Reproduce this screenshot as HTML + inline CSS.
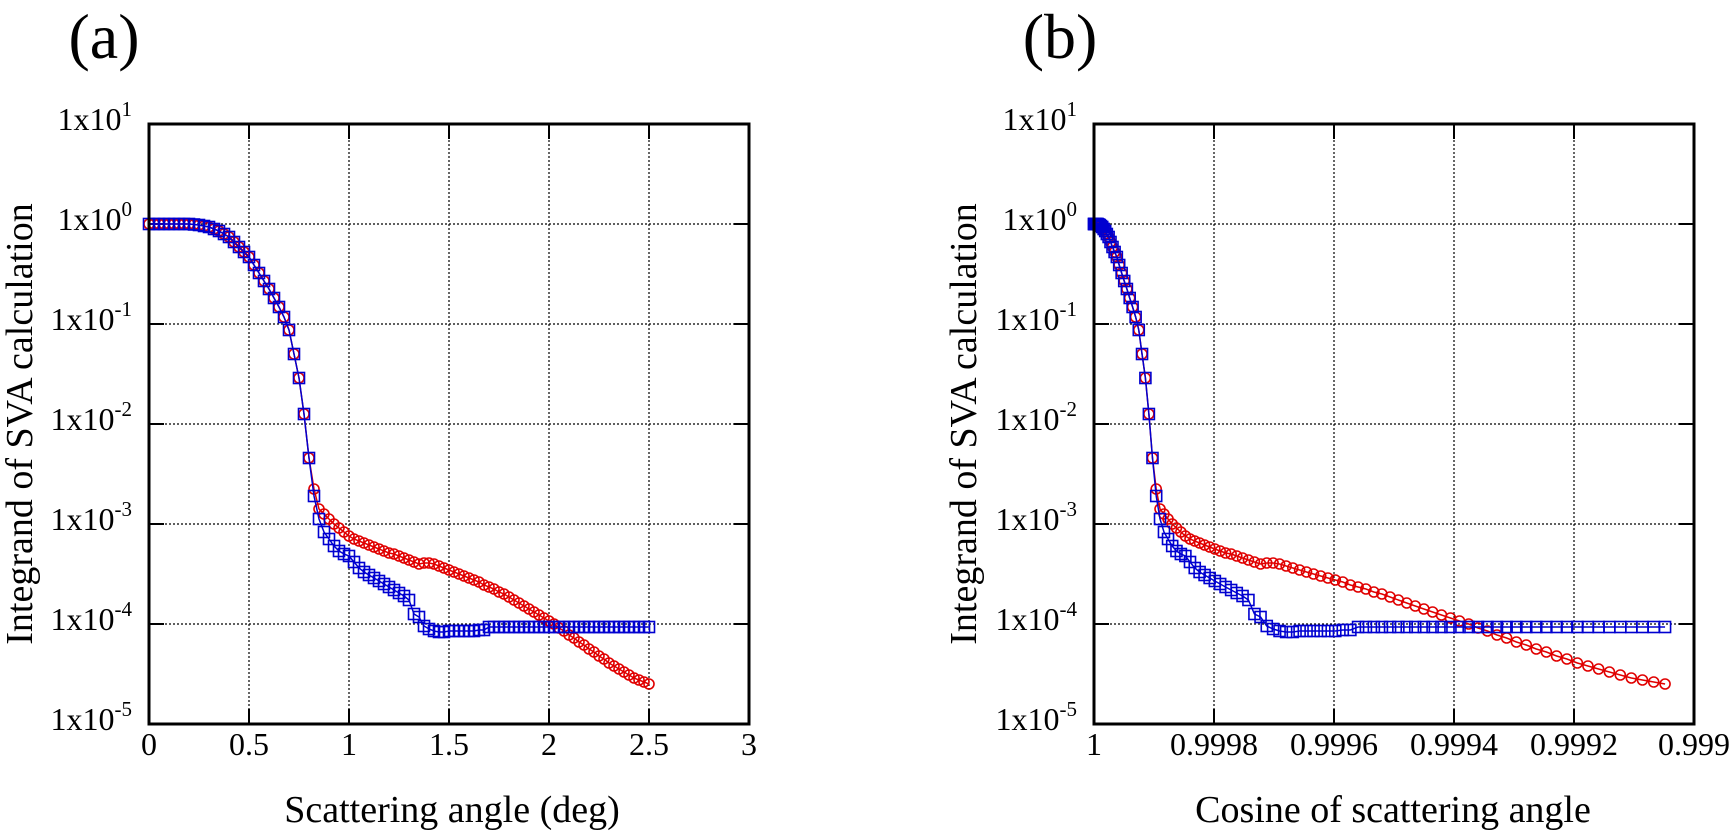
<!DOCTYPE html>
<html><head><meta charset="utf-8"><style>
html,body{margin:0;padding:0;background:#fff;}
svg{display:block;font-family:"Liberation Serif",serif;}
</style></head><body>
<svg id="fig" width="1733" height="833" viewBox="0 0 1733 833" xmlns="http://www.w3.org/2000/svg"></svg>
<script>
// ---- data (angle in degrees, values as log10 of integrand) ----
const angles = [0,0.025,0.05,0.075,0.1,0.125,0.15,0.175,0.2,0.225,0.25,0.275,0.3,0.325,0.35,0.375,0.4,0.425,0.45,0.475,0.5,0.525,0.55,0.575,0.6,0.625,0.65,0.675,0.7,0.725,0.75,0.775,0.8,0.825,0.85,0.875,0.9,0.925,0.95,0.975,1.0,1.025,1.05,1.075,1.1,1.125,1.15,1.175,1.2,1.225,1.25,1.275,1.3,1.325,1.35,1.375,1.4,1.425,1.45,1.475,1.5,1.525,1.55,1.575,1.6,1.625,1.65,1.675,1.7,1.725,1.75,1.775,1.8,1.825,1.85,1.875,1.9,1.925,1.95,1.975,2.0,2.025,2.05,2.075,2.1,2.125,2.15,2.175,2.2,2.225,2.25,2.275,2.3,2.325,2.35,2.375,2.4,2.425,2.45,2.475,2.5];
const logRed = [0,0,0,0,0,0,0,0,0,-0.005,-0.01,-0.02,-0.03,-0.05,-0.07,-0.10,-0.13,-0.18,-0.23,-0.28,-0.33,-0.41,-0.49,-0.57,-0.65,-0.74,-0.83,-0.93,-1.06,-1.3,-1.54,-1.9,-2.34,-2.65,-2.85,-2.9,-2.95,-3.0,-3.04,-3.08,-3.12,-3.15,-3.17,-3.19,-3.21,-3.23,-3.25,-3.27,-3.29,-3.30,-3.32,-3.34,-3.36,-3.38,-3.40,-3.39,-3.39,-3.40,-3.42,-3.44,-3.46,-3.48,-3.50,-3.52,-3.54,-3.56,-3.58,-3.61,-3.63,-3.65,-3.68,-3.70,-3.73,-3.76,-3.79,-3.82,-3.85,-3.88,-3.91,-3.94,-3.97,-4.0,-4.04,-4.07,-4.11,-4.14,-4.18,-4.21,-4.25,-4.28,-4.32,-4.35,-4.39,-4.42,-4.45,-4.48,-4.51,-4.54,-4.56,-4.58,-4.6];
const logBlue = [0,0,0,0,0,0,0,0,0,-0.005,-0.01,-0.02,-0.03,-0.05,-0.07,-0.10,-0.13,-0.18,-0.23,-0.28,-0.33,-0.41,-0.49,-0.57,-0.65,-0.74,-0.83,-0.93,-1.06,-1.3,-1.54,-1.9,-2.34,-2.72,-2.95,-3.08,-3.15,-3.22,-3.27,-3.3,-3.32,-3.38,-3.44,-3.48,-3.51,-3.54,-3.57,-3.6,-3.63,-3.66,-3.69,-3.72,-3.76,-3.9,-3.93,-4.02,-4.05,-4.07,-4.08,-4.08,-4.07,-4.07,-4.07,-4.07,-4.07,-4.07,-4.06,-4.06,-4.03,-4.03,-4.03,-4.03,-4.03,-4.03,-4.03,-4.03,-4.03,-4.03,-4.03,-4.03,-4.03,-4.03,-4.03,-4.03,-4.03,-4.03,-4.03,-4.03,-4.03,-4.03,-4.03,-4.03,-4.03,-4.03,-4.03,-4.03,-4.03,-4.03,-4.03,-4.03,-4.03];
const yExps = [1,0,-1,-2,-3,-4,-5];
const xTicksA = [0,0.5,1,1.5,2,2.5,3];
const xTickLabelsA = ["0","0.5","1","1.5","2","2.5","3"];
const xTicksB = [1,0.9998,0.9996,0.9994,0.9992,0.999];
const xTickLabelsB = ["1","0.9998","0.9996","0.9994","0.9992","0.999"];

const NS = "http://www.w3.org/2000/svg";
const svg = document.getElementById('fig');
function mk(tag, attrs, parent){
  const e = document.createElementNS(NS, tag);
  for (const k in attrs) e.setAttribute(k, attrs[k]);
  (parent||svg).appendChild(e);
  return e;
}

function panel(opts){
  const g = mk('g', {});
  
  
  const L = opts.left, R = opts.right, T = 124, B = 724;
  const yS = v => T + (1 - v) * 100;
  const xS = v => L + (v - opts.xmin) / (opts.xmax - opts.xmin) * (R - L);

  const grid = mk('g', {stroke:'#000','stroke-width':1.2,'stroke-dasharray':'2,2',fill:'none'}, g);
  
  
  yExps.forEach(e => { if (e < 1 && e > -5) mk('line', {x1:L, x2:R, y1:yS(e), y2:yS(e)}, grid); });
  opts.xt.forEach(t => { const x = xS(t); if (x > L+1 && x < R-1) mk('line', {x1:x, x2:x, y1:T, y2:B}, grid); });

  const ticks = mk('g', {stroke:'#000','stroke-width':2}, g);
  yExps.forEach(e => {
    mk('line', {x1:L, x2:L+15, y1:yS(e), y2:yS(e)}, ticks);
    mk('line', {x1:R, x2:R-15, y1:yS(e), y2:yS(e)}, ticks);
  });
  opts.xt.forEach(t => {
    const x = xS(t);
    mk('line', {x1:x, x2:x, y1:B, y2:B-15}, ticks);
    mk('line', {x1:x, x2:x, y1:T, y2:T+15}, ticks);
  });

  yExps.forEach(e => {
    const t = mk('text', {x:L-17, y:yS(e)+6, 'text-anchor':'end', 'font-size':32, fill:'#000'}, g);
    
    
    const a = document.createElementNS(NS, 'tspan'); a.textContent = '1x10'; t.appendChild(a);
    const b = document.createElementNS(NS, 'tspan');
    b.setAttribute('dy', '-14'); b.setAttribute('font-size', '21'); b.textContent = String(e);
    t.appendChild(b);
  });
  opts.xt.forEach((tv, i) => {
    const t = mk('text', {x:xS(tv), y:755, 'text-anchor':'middle', 'font-size':32, fill:'#000'}, g);
    
    
    t.textContent = opts.xl[i];
  });

  const px = opts.xmap;
  function series(vals, color, name, shape){
    const sg = mk('g', {}, g);
    
    
    const pts = angles.map((a, i) => xS(px(a)).toFixed(2) + ',' + yS(vals[i]).toFixed(2)).join(' ');
    mk('polyline', {points:pts, fill:'none', stroke:color, 'stroke-width':1.5}, sg);
    angles.forEach((a, i) => {
      const x = xS(px(a)), y = yS(vals[i]);
      let m;
      if (shape === 'circle') m = mk('circle', {cx:x, cy:y, r:5, fill:'none', stroke:color, 'stroke-width':1.6}, sg);
      else m = mk('rect', {x:x-5.5, y:y-5.5, width:11, height:11, fill:'none', stroke:color, 'stroke-width':1.6}, sg);
      
      
    });
  }
  series(logRed, '#e00000', 'series-red-circles', 'circle');
  series(logBlue, '#0000d0', 'series-blue-squares', 'square');

  const fr = mk('rect', {x:L, y:T, width:R-L, height:B-T, fill:'none', stroke:'#000', 'stroke-width':3}, g);
  
  

  const yt = mk('text', {x:0, y:0, 'text-anchor':'middle', 'font-size':38, fill:'#000',
     transform:'translate(' + (opts.ytx) + ',424) rotate(-90)'}, g);
  
  
  yt.textContent = 'Integrand of SVA calculation';
  const xt = mk('text', {x:opts.xtx, y:822, 'text-anchor':'middle', 'font-size':38, fill:'#000'}, g);
  
  
  xt.textContent = opts.xtitle;
  const pl = mk('text', {x:opts.plx, y:58, 'text-anchor':'middle', 'font-size':64, fill:'#000'}, g);
  
  
  pl.textContent = opts.label;
}

panel({name:'panel-a', left:149, right:749, xmin:0, xmax:3, xt:xTicksA, xl:xTickLabelsA,
  xmap:a => a, ytx:32, xtx:452, xtitle:'Scattering angle (deg)', plx:104, label:'(a)'});
panel({name:'panel-b', left:1094, right:1694, xmin:1, xmax:0.999, xt:xTicksB, xl:xTickLabelsB,
  xmap:a => Math.cos(a * Math.PI / 180), ytx:976, xtx:1393, xtitle:'Cosine of scattering angle', plx:1060, label:'(b)'});
</script>
</body></html>
